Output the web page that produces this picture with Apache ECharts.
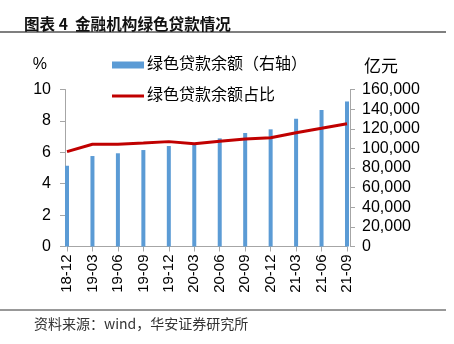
<!DOCTYPE html>
<html>
<head>
<meta charset="utf-8">
<script src="https://cdn.jsdelivr.net/npm/echarts@6/dist/echarts.min.js"></script>
<style>
html,body{margin:0;padding:0;background:#fff;}
#c{width:454px;height:344px;}
</style>
</head>
<body>
<div id="c"></div>
<script>
const categories = ['18-12','19-03','19-06','19-09','19-12','20-03','20-06','20-09','20-12','21-03','21-06','21-09'];
const loanBalance = [82300, 92200, 95000, 98300, 102400, 104100, 110200, 115700, 119400, 130300, 139100, 147800];
const loanShare = [6.04, 6.51, 6.51, 6.59, 6.68, 6.55, 6.70, 6.85, 6.93, 7.25, 7.53, 7.82];
const leftTicks = {min: 0, max: 10, interval: 2};
const rightTicks = {min: 0, max: 160000, interval: 20000};

const FONT = "'Liberation Sans', Arial, 'Noto Sans CJK SC', sans-serif";
const chart = echarts.init(document.getElementById('c'), null, {renderer: 'canvas'});
chart.setOption({
  animation: false,
  backgroundColor: '#fff',
  textStyle: {fontFamily: FONT, color: '#000'},
  title: {
    text: '图表 4  金融机构绿色贷款情况',
    left: 19, top: 11,
    textStyle: {fontFamily: "'Noto Sans CJK SC', sans-serif", fontSize: 15.6, fontWeight: 'bold', color: '#111'}
  },
  graphic: [
    {type: 'line', shape: {x1: 0, y1: 32, x2: 446, y2: 32}, style: {stroke: '#555', lineWidth: 1.5}},
    {type: 'line', shape: {x1: 0, y1: 310, x2: 446, y2: 310}, style: {stroke: '#333', lineWidth: 1}},
    {type: 'text', left: 34, top: 317, style: {text: '资料来源：wind，华安证券研究所', fontSize: 14, fill: '#333', fontFamily: "'Noto Sans CJK SC', sans-serif"}}
  ],
  legend: [
    {data: ['绿色贷款余额（右轴）'], left: 107, top: 52, icon: 'rect', itemWidth: 32, itemHeight: 7, itemGap: 4,
     textStyle: {fontSize: 16, color: '#000', fontFamily: FONT, padding: [0, 0, 0, -2]}},
    {data: ['绿色贷款余额占比'], left: 107, top: 83, icon: 'rect', itemWidth: 32, itemHeight: 3, itemGap: 4,
     textStyle: {fontSize: 16, color: '#000', fontFamily: FONT, padding: [0, 0, 0, -2]}}
  ],
  grid: {left: 67, right: 107, top: 89.5, bottom: 97.5},
  xAxis: {
    type: 'category', data: categories, boundaryGap: false,
    axisLine: {lineStyle: {color: '#a6a6a6', width: 1}},
    axisTick: {show: true, alignWithLabel: true, length: 5, lineStyle: {color: '#a6a6a6'}},
    axisLabel: {rotate: 90, fontSize: 15, color: '#000', margin: 8, interval: 0, fontFamily: FONT}
  },
  yAxis: [
    {type: 'value', min: leftTicks.min, max: leftTicks.max, interval: leftTicks.interval, position: 'left', offset: 2,
     name: '%', nameLocation: 'end', nameGap: 17,
     nameTextStyle: {align: 'right', padding: [0, 18, 0, 0], fontSize: 16, color: '#000', fontFamily: FONT},
     axisLine: {show: true, lineStyle: {color: '#a6a6a6'}},
     axisTick: {show: true, length: 5, lineStyle: {color: '#a6a6a6'}},
     splitLine: {show: false},
     axisLabel: {fontSize: 16, color: '#000', margin: 14, fontFamily: FONT}},
    {type: 'value', min: rightTicks.min, max: rightTicks.max, interval: rightTicks.interval, position: 'right', offset: 3,
     name: '亿元', nameLocation: 'end', nameGap: 15,
     nameTextStyle: {align: 'left', padding: [0, 0, 0, 14], fontSize: 17, color: '#000', fontFamily: "'Noto Sans CJK SC', sans-serif"},
     axisLine: {show: true, lineStyle: {color: '#a6a6a6'}},
     axisTick: {show: true, length: 5, lineStyle: {color: '#a6a6a6'}},
     splitLine: {show: false},
     axisLabel: {fontSize: 16, color: '#000', margin: 12, fontFamily: FONT,
       formatter: v => v.toLocaleString('en-US')}}
  ],
  series: [
    {name: '绿色贷款余额（右轴）', type: 'bar', yAxisIndex: 1, data: loanBalance, barWidth: 4, clip: false,
     itemStyle: {color: '#5b9bd5'}},
    {name: '绿色贷款余额占比', type: 'line', yAxisIndex: 0, data: loanShare, symbol: 'none', showSymbol: false,
     lineStyle: {color: '#c00000', width: 3}, itemStyle: {color: '#c00000'}}
  ]
});
</script>
</body>
</html>
